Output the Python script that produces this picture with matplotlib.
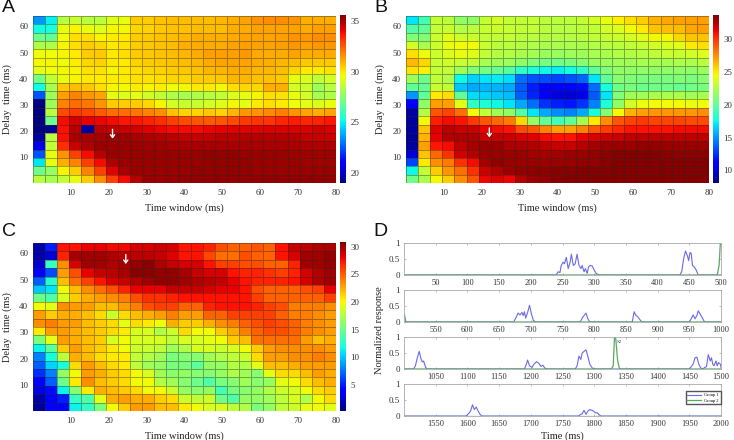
import matplotlib
matplotlib.use('Agg')
import matplotlib.pyplot as plt
import numpy as np

plt.rcParams['font.family'] = ['Liberation Serif', 'DejaVu Serif']

W, H = 734, 440

# cell values, rows go top (delay 64 ms) to bottom (delay 0 ms), 25 columns
panel_a = np.array([
    [23.5,25,28.5,28.8,28.5,28.5,29.3,29.5,30.5,30.5,30.7,30.8,30.8,30.8,30.8,30.9,31,31.2,31.5,31.6,31.6,31.5,31,31,31],
    [25.2,25.4,29.5,29.8,29.5,29.3,29.7,29.7,30.3,30.4,30.6,30.7,30.7,30.8,30.8,30.8,31,31.1,31.2,31.2,31.2,31.2,31.1,31.3,31.3],
    [27,26.8,29.6,30.2,30.2,29.8,30,30,30.5,30.6,30.7,30.8,30.9,31,31,31,31.1,31.2,31.2,31.2,31.3,31.5,31.4,31.6,31.6],
    [28.3,28.3,29.8,30.2,30.5,30.3,30,30.1,30.5,30.6,30.7,30.8,31,31.1,31.1,31.1,31.2,31.3,31.2,31.2,31.3,31.4,31.3,31.4,31.4],
    [29.6,29.6,29.8,30,30.5,30.6,30,30.2,30.5,30.6,30.7,30.8,30.9,31.1,31.3,31.3,31.3,31.4,31.1,31.1,31.1,31.2,31,31.1,31.1],
    [29.7,29.7,29.6,29.9,30.3,30.4,30,30,30.4,30.5,30.6,30.7,30.8,30.9,31.1,31.2,31.2,31.2,31.1,31,30.9,30.8,30.6,30.6,30.6],
    [29.4,29.6,29.7,29.8,30.1,30.1,29.8,30,30.2,30.3,30.4,30.5,30.6,30.7,30.9,30.9,31,31.1,30.9,30.9,30.8,30.3,30,30,30.1],
    [27.2,28.7,29.5,29.8,30,30,29.9,29.9,30.1,30.1,30.2,30.3,30.3,30.5,30.5,30.6,30.9,30.9,30.7,30.7,30.6,29.5,29.2,28.7,29],
    [25.2,28.2,30.6,30.8,30.6,30.2,29.8,29.7,29.9,29.8,29.9,29.6,29.7,30,30,29.7,30.2,30.3,30.3,31,31,29,28.9,28,28.5],
    [22.5,28,31.3,31.8,31.4,31.2,29.5,29.3,29.4,29,28.7,28.3,28.2,28.3,28.5,28.7,29.2,29.5,29.8,30.2,30.1,29.5,29,28.2,28.3],
    [19,28,31.8,32.2,32,31.5,30.5,30.5,30.5,30.3,29.8,29,28.8,28.8,29,29.3,29.7,29.4,30,30.2,30,29.6,29.4,29.2,29.5],
    [19,28.5,32.8,33.1,32.9,32.5,32.1,32.2,32,31.8,31.6,30.7,30.4,30.4,30.6,30.4,30.9,31.4,31.5,31.7,31.9,31.5,31.2,31,31.2],
    [19,27,33.9,34.4,34.1,34,33.9,33.7,33.7,33.5,33.3,33,32.8,32.6,32.5,32.6,32.8,33.1,33.2,33.2,33.4,33.6,33.4,33.5,33.7],
    [19,19.3,33.8,34.8,19.5,34.7,34.6,34.5,34.4,34.2,34,33.9,33.9,33.9,34,34.1,34.2,34.2,34.2,34.3,34.3,34.3,34.3,34.4,34.3],
    [19.5,28.5,33.8,35,35,35,35.2,35.1,35,34.9,34.8,34.7,34.6,34.6,34.6,34.7,34.7,34.8,34.8,34.8,34.8,34.8,34.6,34.5,34.5],
    [20.5,28.7,33.3,34.5,34.9,35.2,35.2,35.2,35.2,35.1,35.1,35,35,35,35,35,35,35,35,35,35,35,34.9,34.9,34.9],
    [22.5,29.5,31.5,33,33.9,34.8,35.2,35.2,35.2,35.2,35.2,35.2,35.2,35.2,35.3,35.3,35.3,35.2,35.2,35.2,35.2,35.1,35.1,35.1,35.1],
    [24.8,29.5,31,31.8,33,33.9,34.9,35.2,35.2,35.2,35.2,35.2,35.2,35.2,35.3,35.3,35.3,35.3,35.2,35.2,35.2,35.2,35.1,35.1,35.1],
    [27,27.8,29.8,30.5,31.8,33,34.2,35,35.2,35.2,35.2,35.2,35.2,35.3,35.3,35.3,35.3,35.3,35.2,35.2,35.2,35.2,35.2,35.2,35.2],
    [28.5,28.2,28.7,29.5,30.5,31.6,33,33.9,34.8,35.2,35.2,35.2,35.3,35.3,35.3,35.3,35.3,35.3,35.3,35.3,35.3,35.3,35.3,35.3,35.3],
])

panel_b = np.array([
    [17,19,23,22.8,21.5,21.5,23,23.5,23,23,23,22.8,22.8,22.8,23,23.5,24.2,24.8,25.3,25.8,26.5,26.8,27,27,27],
    [19.5,20,23,23.2,22.5,22.7,23.2,23.3,23.2,23,23,22.8,22.7,22.7,22.8,23,23.5,23.8,24.5,25,26,26.2,26.2,26.8,27],
    [21,21,23.2,24,23.3,23.3,23,23,23,22.8,22.7,22.6,22.6,22.6,22.7,22.9,23.1,23.3,23.5,24,24.6,24.6,25.5,26,26],
    [23.5,22.2,23.3,24.2,24.5,24.5,23.2,22.8,22.8,22.6,22.4,22.3,22.3,22.3,22.3,22.5,22.7,22.8,23,23.2,23.5,23.8,24,25,25.3],
    [25.3,24.3,23.3,23.8,24.2,24,23,22.6,22.5,22.3,22.1,21.8,21.8,21.9,22,22.2,22.3,22.5,22.5,22.7,22.9,23.2,23.2,23.5,23.9],
    [26.3,25.5,23.2,23.4,23.2,23,22.2,22,21.9,21.5,21,20.7,20.5,20.8,21.2,21.7,21.9,22,22,22.2,22.2,22.2,22.4,22.4,22.8],
    [25.2,24.8,23,23,22,21,20.7,20.3,19.8,18.5,18,17.5,17.3,17.7,18.5,20,21,21.5,21.5,21.5,21.5,21.5,21.5,21.5,21.8],
    [22,20.5,23,22.5,17.5,16.5,17,17.2,16.8,14,13.3,13.2,13,13.3,13.8,17,20,21.2,21,20.8,20.8,20.8,21,20.8,21.2],
    [20,20.2,23.2,23,16.2,15.5,15.8,15.8,15.5,13.5,12,11.2,11,11,11.5,14,17.8,20.5,20.8,20.3,20.5,20.5,20.2,20.5,20.8],
    [15,20,25,25.3,20,16.8,16.5,16.3,16,13.6,12.2,11,10.2,10,10.5,13.5,17,21,22,22,22.3,22.3,22.3,22,22.2],
    [11,21.5,27,27,24,18.5,18,17.5,17,15.5,14,12.5,12,11.8,12.5,14.5,18,21.5,23.5,24.3,24.5,24.5,24.5,24.3,24.4],
    [9,22.5,29,29.5,28.3,24.5,23,22,21.5,19.5,17,15.5,14.8,14.5,15.5,17.8,21,24.5,26.5,27,27.2,27.2,27.2,27.2,27.5],
    [8.8,24.5,30.5,31,30.8,29.8,29,28.5,28,25.5,21.5,20,19,20,22,25,27.5,29,29.5,29.8,29.5,29.5,29.5,29.3,29.3],
    [8.8,26,31.5,32.3,32,32,31.3,31,30.8,29.3,29,27.8,27,27,27.8,29,29.7,30.3,30.8,30.8,30.8,30.8,31,31,31],
    [8.6,26.5,31.3,32.5,32.6,32.6,32,32,32,31.7,31.5,31,30.8,30.8,31.3,31.6,31.8,32,32.2,32.2,32.2,32.2,32.2,32.2,32.2],
    [8.8,27,30.7,31,32.2,32.8,33,33,32.6,32.6,32.5,32.2,32,32,32.4,32.8,33,33,33,33.2,33.2,33,33,33,33],
    [10,26,28.5,30,31.8,32.5,33,33,33,33,32.8,32.8,32.8,33,33,33.2,33.3,33.5,33.5,33.5,33.5,33.4,33.3,33.3,33.3],
    [13,25,27.5,28,30,31,32.8,33.2,33,33,33,33,33,33,33.2,33.2,33.4,33.5,33.5,33.5,33.5,33.5,33.5,33.5,33.5],
    [17.5,23,25.8,27.3,28.3,30,32,32.5,33,33.2,33.3,33.3,33.4,33.4,33.5,33.5,33.5,33.5,33.5,33.5,33.5,33.5,33.5,33.5,33.5],
    [20.5,22.3,24.6,25.8,27.5,29,31.2,31.5,31.2,32.5,33,33.2,33.4,33.5,33.5,33.5,33.5,33.5,33.5,33.5,33.5,33.5,33.5,33.5,33.5],
])

panel_c = np.array([
    [1.5,5,27.5,27.5,28,28,27.8,27.8,28.5,28.5,28.8,28.5,27.5,27.5,27,25.5,25,25,25.3,25,27.5,29,29.2,29.6,29.6],
    [1.5,2.5,27,29.8,30,30,29.6,29.3,29.3,29.2,29,28.3,27.5,27.5,25.8,24.5,24.5,25.5,25,24.8,27.5,28.5,30,30,30.3],
    [2.5,13,23.5,28.5,30,30,29.5,29.7,30.2,30.5,29.6,29,28.5,28.5,27.5,26,26,25.5,25.5,25,25,27,30,30,30.2],
    [4,6.5,23,25.5,28,29,29.3,29.7,30.5,30.5,30.3,30.3,29.7,29,28.5,28.5,27.5,27,27,26.5,26,27,28.5,29.5,30],
    [7,12.5,22,24.5,26,27.5,28.5,29,29.5,30,30.3,30.3,30,29.5,29.3,29,28,27.5,27,27,27,27.5,28.5,29.5,30],
    [10,11,20,22,23.5,24.5,25.5,27,28,28,28,29,29,29,28.5,28,28,27.5,25.5,25,25,25,25.5,26,28],
    [15,14,19,21.5,22.5,23,23.5,24,25.5,26.5,26.5,27,27.5,27.5,27.5,27.5,27.5,27.5,26,25,25,25,25,25,26],
    [20,19.5,23.5,23,23,22,22,23,24,25.5,26,26,25,25,27,27.5,27.5,27.5,27,26,25.5,24,24,24,23.5],
    [23,21.5,22.5,22.5,22,21,18.5,21,22,22.5,23,24,23,23,25,25,26,26,26,26,25,24,24,23.5,23],
    [23.5,24,23,23,22,21.5,21,19.5,21,20.5,19.8,22.5,21.5,21.5,22.5,23.5,24,25,25.5,26,25.5,25,24,23.5,23],
    [20.5,23,23,22.5,22,21.5,21,20.5,19,19,17.5,18.5,21,20,20,21.5,22.5,24,25,25.5,25.5,25,24,23.5,23],
    [15.5,19.5,23,22.5,22,21.5,19,20,19,19,19,18,19,19,19.5,20,21.5,22,24.5,24.5,24.5,24.5,23,22,22.5],
    [11.5,14.5,21.5,23,22,21.5,20.5,20,18.5,18.5,18,17,17.5,19,19,18.5,19,20,21.5,23,23.5,23.5,23.5,23.5,23],
    [8,12,18,22.5,22,21,20.5,20.5,18,17.5,17,15.5,16,16,17,17.5,18,18.5,21,23,23,23.5,23.5,24,23.5],
    [7,10.5,12,21,23,22,21,20.5,18,17,16.5,15.5,15.5,14.5,16.5,16.5,17.5,17.5,19.5,22,22,22.5,23,23,23],
    [5.5,8,16.5,20,23,22.5,21.5,21,20,19,17,16,16.5,16,16,16.5,17.5,17,16,19.5,21,21,22,23,22.5],
    [3.5,7,15,20.5,23.5,22,21.5,21,20,20,17.5,17,16,15,14,15.5,16,17,16,16.5,19.5,20,21,22,22.5],
    [3,4.5,11.5,16,20.5,22.5,22,21.5,21,20,20,18.5,16.5,16,16.5,13.5,15.5,16,16.5,17.5,18.5,19,20,21,21.5],
    [1.5,4,5,13,14,19.5,22.5,23,22.5,22.5,21.5,21,18.5,18,18.5,15,14,16.5,16.5,17,18,19,17.5,20,21],
    [1,4,4,11.5,13,15.5,20,21.5,23,23,22,22,20.5,20,19,19,18,17.5,15.5,16.5,18,18.5,19.5,20,19.5],
])

window_edges = np.linspace(0, 80, 26)
delay_edges = np.linspace(64, 0, 21)

# panel D, group 1 response (time, value) read per row
row1_t = [0,240,243,246,248,251,253,256,259,262,264,267,270,273,276,279,281,284,286,289,291,294,297,300,303,308,435,438,441,444,447,449,451,453,455,458,461,464,500]
row1_y = [0,0,.1,.08,.3,.4,.35,.55,.2,.4,.65,.3,.35,.65,.3,.2,.3,.1,.2,.05,.25,.3,.28,.15,.05,0,0,.1,.5,.75,.6,.45,.7,.68,.3,.25,.15,0,0]
row2_t = [500,673,677,680,683,686,688,690,692,695,698,701,704,708,778,781,784,787,790,793,860,863,866,868,871,875,950,953,956,959,962,964,967,970,974,1000]
row2_y = [0,0,.15,.28,.22,.3,.2,.32,.12,.3,.52,.25,.05,0,0,.12,.2,.28,.1,0,0,.32,.2,.18,.1,0,0,.1,.22,.1,.2,.35,.25,.15,0,0]
row3_t = [1000,1015,1018,1021,1024,1027,1029,1031,1034,1037,1190,1193,1195,1198,1202,1205,1209,1213,1216,1219,1222,1226,1270,1273,1276,1279,1281,1284,1287,1290,1293,1297,1300,1450,1453,1456,1459,1462,1465,1468,1472,1474,1477,1480,1483,1485,1487,1489,1492,1494,1496,1499,1500]
row3_y = [0,0,.1,.35,.55,.3,.22,.25,.05,0,0,.15,.28,.1,.05,.15,.23,.17,.08,.12,.03,0,0,.1,.4,.3,.5,.55,.6,.4,.15,.03,0,0,.07,.15,.35,.37,.15,.03,0,.05,.07,.45,.25,.35,.15,.1,.25,.1,.2,.15,.05]
row4_t = [1500,1598,1602,1605,1608,1611,1614,1617,1620,1623,1775,1778,1781,1784,1787,1790,1793,1796,1799,1802,1805,1808,1811,2000]
row4_y = [0,0,.08,.15,.35,.2,.28,.15,.05,0,0,.04,.07,.18,.05,.15,.2,.18,.15,.1,.1,.03,0,0]

# group 2 response
green1_t = [0,494,497,499,500]
green1_y = [0,0,.3,1,1]
green2_t = [500,501,503,1000]
green2_y = [.25,.2,0,0]
green3_t = [1000,1327,1330,1332,1334,1337,1340,1500]
green3_y = [0,0,.1,1,.95,.25,0,0]
green4_t = [1500,2000]
green4_y = [0,0]

blue_rows = [(row1_t,row1_y),(row2_t,row2_y),(row3_t,row3_y),(row4_t,row4_y)]
green_rows = [(green1_t,green1_y),(green2_t,green2_y),(green3_t,green3_y),(green4_t,green4_y)]
row_limits = [(0,500),(500,1000),(1000,1500),(1500,2000)]
row_ticks = [range(50,501,50),range(550,1001,50),range(1050,1501,50),range(1550,2001,50)]


def box(left, top, right, bottom):
    # pixel box to figure axes
    return fig.add_axes([left/W, 1-bottom/H, (right-left)/W, (bottom-top)/H])


def heatmap(values, rect, cbar_x, vmin, vmax, cticks, arrow):
    ax = box(*rect)
    mesh = ax.pcolormesh(window_edges, delay_edges, values, cmap='jet', vmin=vmin, vmax=vmax,
                         edgecolors=(0.15, 0.15, 0.15, 0.4), linewidth=0.4)
    ax.set_xlim(0, 80)
    ax.set_ylim(0, 64)
    ax.set_xticks(range(10, 81, 10))
    ax.set_yticks(range(10, 61, 10))
    ax.tick_params(axis='x', length=0, labelsize=6.5, colors='#333333', pad=4)
    ax.tick_params(axis='y', length=0, labelsize=6.5, colors='#333333', pad=3.5)
    ax.set_xlabel('Time window (ms)', fontsize=7.5, color='#222222', labelpad=5)
    ax.set_ylabel('Delay  time (ms)', fontsize=7.5, color='#222222', labelpad=5)
    for s in ax.spines.values():
        s.set_visible(False)
    ax.annotate('', xy=(arrow[0], arrow[1]-2), xytext=(arrow[0], arrow[1]+1.6),
                arrowprops=dict(arrowstyle='->,head_width=0.15,head_length=0.2', color='white', lw=1.0,
                                shrinkA=0, shrinkB=0))
    cax = box(cbar_x, rect[1]-1, cbar_x+6, rect[3])
    cb = fig.colorbar(mesh, cax=cax)
    cb.set_ticks(cticks)
    cb.ax.tick_params(length=0, labelsize=6.5, colors='#333333', pad=3)
    cb.outline.set_visible(False)
    return ax


fig = plt.figure(figsize=(W/100, H/100), dpi=100)

heatmap(panel_a, (33, 16, 336, 183), 340, 19, 35.6, [20, 25, 30, 35], (21, 19))
heatmap(panel_b, (406, 16, 709, 183), 713, 8.1, 33.6, [10, 15, 20, 25, 30], (22, 19.5))
heatmap(panel_c, (33, 243, 336, 411), 340, 0.33, 30.85, [5, 10, 15, 20, 25, 30], (24.5, 58))

row_boxes = [(404, 243, 721, 275), (404, 290, 721, 322), (404, 337, 721, 369), (404, 384, 721, 416)]
for i in range(4):
    ax = box(*row_boxes[i])
    ax.plot(*blue_rows[i], color='#6a6ae8', lw=0.8, label='Group 1')
    ax.plot(*green_rows[i], color='#5aa860', lw=0.9, label='Group 2')
    ax.set_xlim(*row_limits[i])
    ax.set_ylim(0, 1)
    ax.set_xticks(list(row_ticks[i]))
    ax.set_yticks([0, 0.5, 1])
    ax.set_yticklabels(['0', '0.5', '1'])
    ax.tick_params(axis='x', direction='in', length=1.5, top=True, width=0.4, color='#888888',
                   labelsize=6, labelcolor='#333333', pad=3)
    ax.tick_params(axis='y', direction='in', length=1.5, right=True, width=0.4, color='#888888',
                   labelsize=6.5, labelcolor='#333333', pad=3)
    for s in ax.spines.values():
        s.set_color('#aaaaaa')
        s.set_linewidth(0.6)
    if i == 2:
        ax.text(1335, 0.82, 'S2', fontsize=3.5, color='#444444')
    if i == 3:
        ax.legend(loc='center right', fontsize=3.2, frameon=True, fancybox=False, edgecolor='#555555',
                  borderpad=0.4, labelspacing=0.3, handlelength=3, bbox_to_anchor=(1.0, 0.57),
                  borderaxespad=0.1, framealpha=1)
        ax.set_xlabel('Time (ms)', fontsize=7.5, color='#222222', labelpad=2.5)

fig.text(379/W, 1-330/H, 'Normalized response', rotation=90, fontsize=7.5, color='#222222', ha='center', va='center')

for letter, px, py in [('A', 2, 12), ('B', 374, 12), ('C', 2, 236), ('D', 373, 236)]:
    fig.text(px/W, 1-py/H, letter, fontsize=14, family='Liberation Sans', color='#111111', ha='left', va='baseline')

fig.savefig('out.png', dpi=100)
